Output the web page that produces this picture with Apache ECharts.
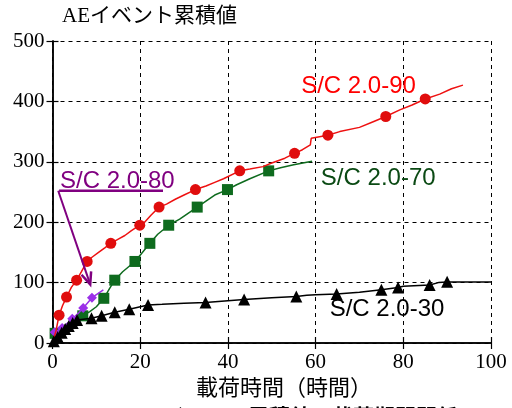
<!DOCTYPE html>
<html>
<head>
<meta charset="utf-8">
<script src="https://cdn.jsdelivr.net/npm/echarts@6/dist/echarts.min.js"></script>
<style>
  html, body { margin: 0; padding: 0; background: #fff; }
  #chart { width: 512px; height: 408px; }
</style>
</head>
<body>
<div id="chart"></div>
<script>
// Cumulative AE events vs. loading time, four S/C 2.0 specimens

// S/C 2.0-90 : traced curve [hours, events] and marked points
const line90 = [[0,0],[0.8,20],[1.5,46],[2.3,62],[3.2,76],[4.3,92],[5.5,104],[6.6,118],[7.9,135],[9,142],[10.5,150],[12,158],[13.3,165],[15,172],[16.5,178],[18,186],[19.9,195],[21,200],[22.5,212],[24.3,225],[26,230],[28,238],[30,245],[32.6,254],[35,260],[37,266],[39,272],[42.7,285],[45,288],[48,292],[50,298],[53,306],[55.2,314],[57,320],[58.8,328],[59,339],[62.8,344],[65.5,350],[70,357],[73,366],[76,375],[79.2,386],[82,394],[85,404],[88.3,412],[91,421],[93.6,427]];
const marks90 = [[1.5,46],[3.2,76],[5.5,104],[7.9,135],[13.3,165],[19.9,195],[24.3,225],[32.6,254],[42.7,285],[55.2,314],[62.8,344],[76,375],[85,404]];

// S/C 2.0-70
const line70 = [[0,0],[0.6,16],[2,25],[4,35],[6.9,45],[8.5,52],[10,60],[11.7,74],[13,90],[14.2,104],[16,118],[18.8,135],[20.5,150],[22.2,165],[24,180],[26.5,195],[29,205],[33,225],[35,235],[37,245],[39.9,254],[42,262],[45,272],[49.3,285],[52,290],[55,295],[59.2,301]];
const marks70 = [[0.6,16],[6.9,45],[11.7,74],[14.2,104],[18.8,135],[22.2,165],[26.5,195],[33,225],[39.9,254],[49.3,285]];

// S/C 2.0-80
const line80 = [[0,15],[1.5,22],[3,30],[4.5,40],[6,50],[7.5,62],[9,75],[11.6,88]];
const marks80 = [[0.5,18],[2.2,25],[4.5,40],[7,58],[9,75]];

// S/C 2.0-30
const line30 = [[0,0],[0.3,3],[1.2,10],[2.1,17],[2.9,23],[3.7,28],[4.6,33],[5.6,38],[8.9,41],[11.2,45],[14.2,51],[17.5,56],[21.8,63],[25,64],[30,66],[34.9,67],[40,70],[43.7,72],[50,75],[55.6,77],[58,79],[60,80],[64.8,81],[70,84],[75,88],[78.8,92],[80,94],[86,96],[88,100],[90,101],[100,101]];
const marks30 = [[0.3,3],[1.2,10],[2.1,17],[2.9,23],[3.7,28],[4.6,33],[5.6,38],[8.9,41],[11.2,45],[14.2,51],[17.5,56],[21.8,63],[34.9,67],[43.7,72],[55.6,77],[64.8,81],[75,88],[78.8,92],[86,96],[90,101.5]];

const xTicks = [0, 20, 40, 60, 80, 100];
const yTicks = [0, 100, 200, 300, 400, 500];

// Series captions: [text, x, y (data units, left-middle anchor), colour]
const captions = [
  ['S/C 2.0-90', 56.7, 425, '#ff0000'],
  ['S/C 2.0-70', 61.2, 272, '#0b4a14'],
  ['S/C 2.0-30', 63.2, 55, '#000000'],
];
// Pointer for S/C 2.0-80: caption position, underline, and arrow
const label80 = { text: 'S/C 2.0-80', x: 1.7, y: 267 };
const underline80 = [[1.5, 252], [25.2, 252]];
const arrow80 = [[1.3, 252], [8.6, 97]];

const serif = '"Liberation Serif", "Noto Sans CJK JP", serif';
const sans = '"Liberation Sans", Arial, sans-serif';

const chart = echarts.init(document.getElementById('chart'), null, { renderer: 'canvas' });

const gridLine = { show: true, lineStyle: { color: '#000', type: [4, 4], width: 1 } };
const axisLine = { show: true, lineStyle: { color: '#000', width: 1.5 } };
const tick = { show: true, inside: true, length: 6, lineStyle: { color: '#000', width: 1.2 } };

function lineSeries(data, color, z) {
  return { type: 'line', data: data, symbol: 'none', lineStyle: { color: color, width: 1.5 }, z: z, animation: false };
}
function markSeries(data, color, symbol, size, z) {
  return { type: 'scatter', data: data, symbol: symbol, symbolSize: size,
    itemStyle: { color: color, opacity: 1 }, z: z, animation: false };
}

chart.setOption({
  animation: false,
  grid: { left: 52.5, right: 21, top: 41, bottom: 65 },
  xAxis: [
    { type: 'value', min: xTicks[0], max: xTicks[xTicks.length - 1], interval: 20, position: 'bottom',
      axisLine: axisLine, axisTick: tick, splitLine: gridLine,
      axisLabel: { color: '#000', fontFamily: serif, fontSize: 21, margin: 9 } },
    { type: 'value', min: 0, max: 100, interval: 20, position: 'top',
      axisLine: axisLine, axisTick: tick, splitLine: { show: false }, axisLabel: { show: false } }
  ],
  yAxis: [
    { type: 'value', min: yTicks[0], max: yTicks[yTicks.length - 1], interval: 100, position: 'left',
      axisLine: axisLine, axisTick: tick, splitLine: gridLine,
      axisLabel: { color: '#000', fontFamily: serif, fontSize: 21, margin: 8 } },
    { type: 'value', min: 0, max: 500, interval: 100, position: 'right',
      axisLine: axisLine, axisTick: tick, splitLine: { show: false }, axisLabel: { show: false } }
  ],
  series: [
    lineSeries(line70, '#0e6b1e', 2),
    markSeries(marks70, '#0e6b1e', 'rect', 11, 3),
    lineSeries(line80, '#9b30e8', 4),
    markSeries(marks80, '#9b30e8', 'diamond', 10, 5),
    lineSeries(line90, '#ee1111', 6),
    markSeries(marks90, '#e00d0d', 'circle', 11, 7),
    lineSeries(line30, '#000000', 8),
    markSeries(marks30, '#000000', 'triangle', 12, 9),
  ]
});

function px(p) { return chart.convertToPixel({ xAxisIndex: 0, yAxisIndex: 0 }, p); }

const graphics = [
  { type: 'text', left: 62, top: 6, style: { text: 'AEイベント累積値', fill: '#000', font: '21px ' + serif } },
  { type: 'text', x: 284, y: 389, style: { text: '載荷時間（時間）', fill: '#000', font: '22px ' + serif, textAlign: 'center', textVerticalAlign: 'middle' } },
  { type: 'text', x: 281, y: 419, style: { text: '(b) AEイベント累積値－載荷期間関係', fill: '#000', font: 'bold 21px ' + serif, textAlign: 'center', textVerticalAlign: 'middle' } },
];
captions.forEach(function (c) {
  const p = px([c[1], c[2]]);
  graphics.push({ type: 'text', x: p[0], y: p[1], z: 20,
    style: { text: c[0], fill: c[3], font: '24px ' + sans, textVerticalAlign: 'middle' } });
});
{
  const p = px([label80.x, label80.y]);
  graphics.push({ type: 'text', x: p[0], y: p[1], z: 20,
    style: { text: label80.text, fill: '#800080', font: '24px ' + sans, textVerticalAlign: 'middle' } });
  const u0 = px(underline80[0]), u1 = px(underline80[1]);
  graphics.push({ type: 'line', z: 20, shape: { x1: u0[0], y1: u0[1], x2: u1[0], y2: u1[1] },
    style: { stroke: '#800080', lineWidth: 2.5 } });
  const a0 = px(arrow80[0]), a1 = px(arrow80[1]);
  graphics.push({ type: 'line', z: 20, shape: { x1: a0[0], y1: a0[1], x2: a1[0], y2: a1[1] },
    style: { stroke: '#800080', lineWidth: 2 } });
  // arrow head
  const ang = Math.atan2(a1[1] - a0[1], a1[0] - a0[0]);
  const L = 13, W = 0.4;
  graphics.push({ type: 'polyline', z: 20, shape: { points: [
      [a1[0] - L * Math.cos(ang - W), a1[1] - L * Math.sin(ang - W)],
      [a1[0], a1[1]],
      [a1[0] - L * Math.cos(ang + W), a1[1] - L * Math.sin(ang + W)] ] },
    style: { stroke: '#800080', lineWidth: 2.5, fill: null } });
}
chart.setOption({ graphic: graphics });
</script>
</body>
</html>
